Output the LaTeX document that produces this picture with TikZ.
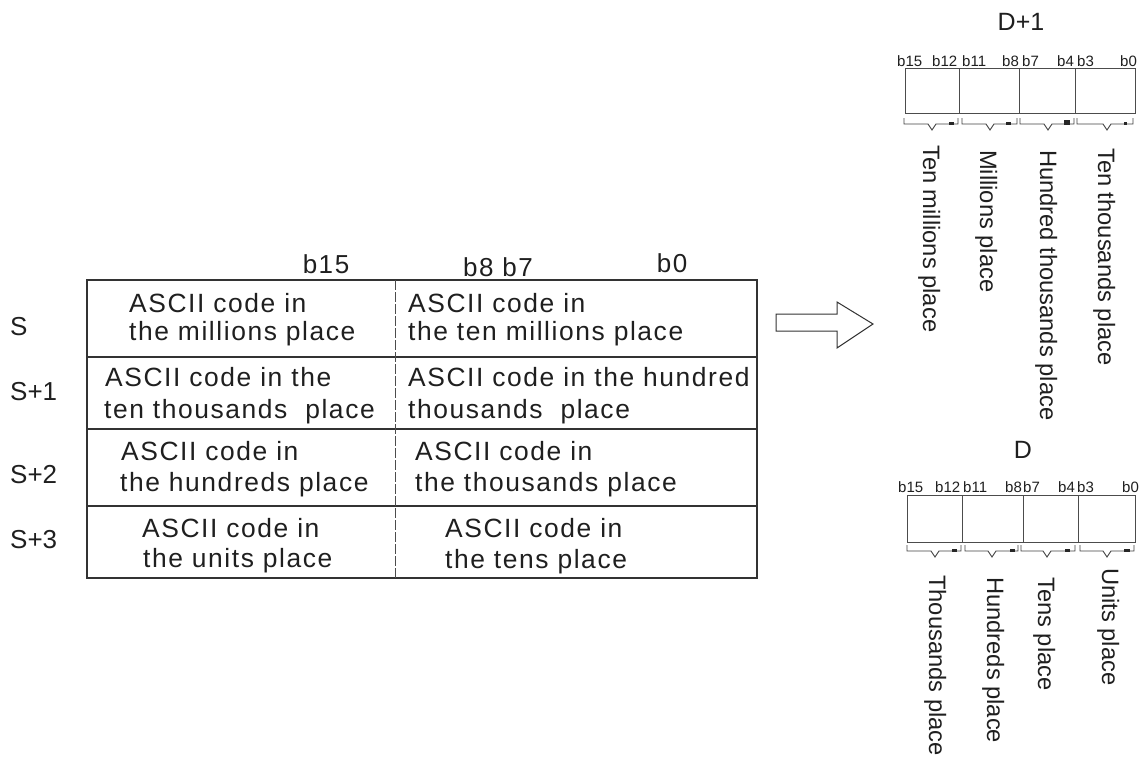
\documentclass[tikz,border=0pt]{standalone}
\usepackage{fontspec}
\setmainfont{Liberation Sans}
\newfontfamily\tblfont{Liberation Sans}[LetterSpace=6]
\newcommand\mybrace[4]{%
  \draw[brc] (#1,#3) -- (#1,#3+6) -- ({#4-4},#3+6) -- (#4,#3+12) -- ({#4+4},#3+6) -- (#2,#3+6) -- (#2,#3);}
\begin{document}
\begin{tikzpicture}[x=1pt,y=-1pt,
  tbl/.style={draw=black!80, line width=1.2pt},
  celltxt/.style={anchor=base west, inner sep=0pt, font=\tblfont\fontsize{26.4}{30}\selectfont, text=black!88},
  hdr/.style={anchor=base, inner sep=0pt, font=\tblfont\fontsize{26}{30}\selectfont, text=black!88},
  rowlbl/.style={anchor=base west, inner sep=0pt, font=\fontsize{26}{30}\selectfont, text=black!88},
  bitlbl/.style={anchor=base west, inner sep=0pt, font=\fontsize{15}{18}\selectfont, text=black!88},
  vlbl/.style={anchor=base west, rotate=-90, inner sep=0pt, font=\fontsize{23.7}{28}\selectfont, text=black!88},
  ttl/.style={anchor=base, inner sep=0pt, font=\fontsize{25}{30}\selectfont, text=black!88},
  reg/.style={draw=black!70, line width=1pt},
  brc/.style={draw=black!75, line width=0.9pt},
  blkmark/.style={fill=black!85},
  ]
\useasboundingbox (0,0) rectangle (1144,756);

% ---------- source table ----------
\draw[tbl] (87,280) rectangle (757,578);
\draw[tbl] (87,357) -- (757,357);
\draw[tbl] (87,429) -- (757,429);
\draw[tbl] (87,506) -- (757,506);
\draw[draw=black!70, line width=1pt, dash pattern=on 10pt off 2pt] (395,280) -- (395,578);

\node[hdr] (hb15) at (326,273) {b15};
\node[hdr] (hb8) at (498,276) {b8 b7};
\node[hdr] (hb0) at (672,272) {b0};

\node[rowlbl] (rS) at (10,335) {S};
\node[rowlbl] (rS1) at (10,400) {S+1};
\node[rowlbl] (rS2) at (10,483) {S+2};
\node[rowlbl] (rS3) at (10,548) {S+3};

\node[celltxt] (c0la) at (129,312) {ASCII code in};
\node[celltxt] (c0lb) at (129,340) {the millions place};
\node[celltxt] (c0ra) at (408,312) {ASCII code in};
\node[celltxt] (c0rb) at (408,340) {the ten millions place};

\node[celltxt] (c1la) at (105,386) {ASCII code in the};
\node[celltxt] (c1lb) at (104,418) {ten thousands\ \ place};
\node[celltxt] (c1ra) at (408,386) {ASCII code in the hundred};
\node[celltxt] (c1rb) at (408,418) {thousands\ \ place};

\node[celltxt] (c2la) at (121,460) {ASCII code in};
\node[celltxt] (c2lb) at (120,491) {the hundreds place};
\node[celltxt] (c2ra) at (415,460) {ASCII code in};
\node[celltxt] (c2rb) at (415,491) {the thousands place};

\node[celltxt] (c3la) at (142,537) {ASCII code in};
\node[celltxt] (c3lb) at (143,567) {the units place};
\node[celltxt] (c3ra) at (445,537) {ASCII code in};
\node[celltxt] (c3rb) at (445,568) {the tens place};

% ---------- arrow ----------
\draw[draw=black!80, line width=1pt, fill=white] (776,314) -- (837,314) -- (837,302) -- (873,324) -- (837,348) -- (837,331) -- (776,331) -- cycle;

% ---------- D+1 register ----------
\node[ttl] (tD1) at (1021,30) {D+1};
\draw[reg] (905,68) rectangle (1135,113);
\draw[reg] (959,68) -- (959,113);
\draw[reg] (1019,68) -- (1019,113);
\draw[reg] (1075,68) -- (1075,113);

\node[bitlbl] (a15) at (897,66) {b15};
\node[bitlbl] (a12) at (932,66) {b12};
\node[bitlbl] (a11) at (962,66) {b11};
\node[bitlbl] (a8) at (1002,66) {b8};
\node[bitlbl] (a7) at (1022,66) {b7};
\node[bitlbl] (a4) at (1057,66) {b4};
\node[bitlbl] (a3) at (1077,66) {b3};
\node[bitlbl] (a0) at (1120,66) {b0};

\mybrace{904}{958}{118}{932}
\mybrace{962}{1017}{118}{990}
\mybrace{1020}{1074}{118}{1048}
\mybrace{1077}{1133}{118}{1107}
\fill[blkmark] (949,122) rectangle (954,125);
\fill[blkmark] (1006,122) rectangle (1011,125);
\fill[blkmark] (1064,120) rectangle (1070,125);
\fill[blkmark] (1124,122) rectangle (1127,125);

\node[vlbl] (l1) at (923,145) {Ten millions place};
\node[vlbl] (l2) at (980,150) {Millions place};
\node[vlbl] (l3) at (1040,150) {Hundred thousands place};
\node[vlbl] (l4) at (1098,148) {Ten thousands place};

% ---------- D register ----------
\node[ttl] (tD) at (1023,458) {D};
\draw[reg] (907,495) rectangle (1135,542);
\draw[reg] (962,495) -- (962,542);
\draw[reg] (1023,495) -- (1023,542);
\draw[reg] (1078,495) -- (1078,542);

\node[bitlbl] (d15) at (898,492) {b15};
\node[bitlbl] (d12) at (935,492) {b12};
\node[bitlbl] (d11) at (963,492) {b11};
\node[bitlbl] (d8) at (1005,492) {b8};
\node[bitlbl] (d7) at (1023,492) {b7};
\node[bitlbl] (d4) at (1058,492) {b4};
\node[bitlbl] (d3) at (1077,492) {b3};
\node[bitlbl] (d0) at (1122,492) {b0};

\mybrace{907}{961}{545}{935}
\mybrace{965}{1018}{545}{992}
\mybrace{1021}{1075}{545}{1047}
\mybrace{1080}{1134}{545}{1107}
\fill[blkmark] (952,549) rectangle (957,552);
\fill[blkmark] (1010,549) rectangle (1015,552);
\fill[blkmark] (1065,549) rectangle (1070,552);
\fill[blkmark] (1124,549) rectangle (1130,552);

\node[vlbl] (m1) at (929,575) {Thousands place};
\node[vlbl] (m2) at (987,577) {Hundreds place};
\node[vlbl] (m3) at (1038,577) {Tens place};
\node[vlbl] (m4) at (1102,568) {Units place};
\end{tikzpicture}
\end{document}
